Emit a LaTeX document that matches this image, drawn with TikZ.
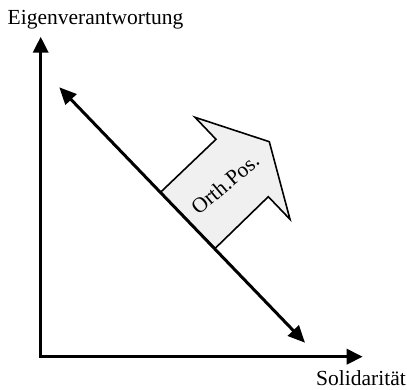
\documentclass[tikz,border=0pt]{standalone}
\usepackage{fontspec}
\setmainfont{Liberation Serif}
\usetikzlibrary{arrows.meta}
\begin{document}
\begin{tikzpicture}[x=1pt,y=-1pt,
  axis/.style={line width=3.5pt,-{Triangle[length=16pt,width=15pt]}},
  diag/.style={line width=3pt,{Triangle[length=17pt,width=15pt]}-{Triangle[length=17pt,width=15pt]}},
  orth/.style={draw=black,fill=gray!12,line width=1.6pt,line join=miter},
  lbl/.style={inner sep=0pt,anchor=base,font=\fontsize{21.5}{25}\selectfont}]
\useasboundingbox (0,0) rectangle (407,390);
\coordinate (O) at (40.7,356.7);
\coordinate (Y) at (40.7,36.7);
\coordinate (X) at (362.7,356.7);
\coordinate (P1) at (59.3,87.3);
\coordinate (P2) at (305,342.7);
\coordinate (A) at (160.5,192.3);
\coordinate (B) at (216,139.3);
\coordinate (C) at (195,117.3);
\coordinate (D) at (269.3,141.7);
\coordinate (E) at (290,219.3);
\coordinate (F) at (268.3,196.7);
\coordinate (G) at (215,248.5);
\draw[orth] (A) -- (B) -- (C) -- (D) -- (E) -- (F) -- (G) -- cycle;
\node[rotate=40,font=\fontsize{21.5}{25}\selectfont,inner sep=0pt] (op) at (225,184) {Orth.Pos.};
\draw[axis] (O) -- (Y);
\draw[axis] ([xshift=-1.75pt]O) -- (X);
\draw[diag] (P1) -- (P2);
\node[lbl] (ey) at (95.5,25) {Eigenverantwortung};
\node[lbl] (sx) at (361,385) {Solidarität};
\end{tikzpicture}
\end{document}
